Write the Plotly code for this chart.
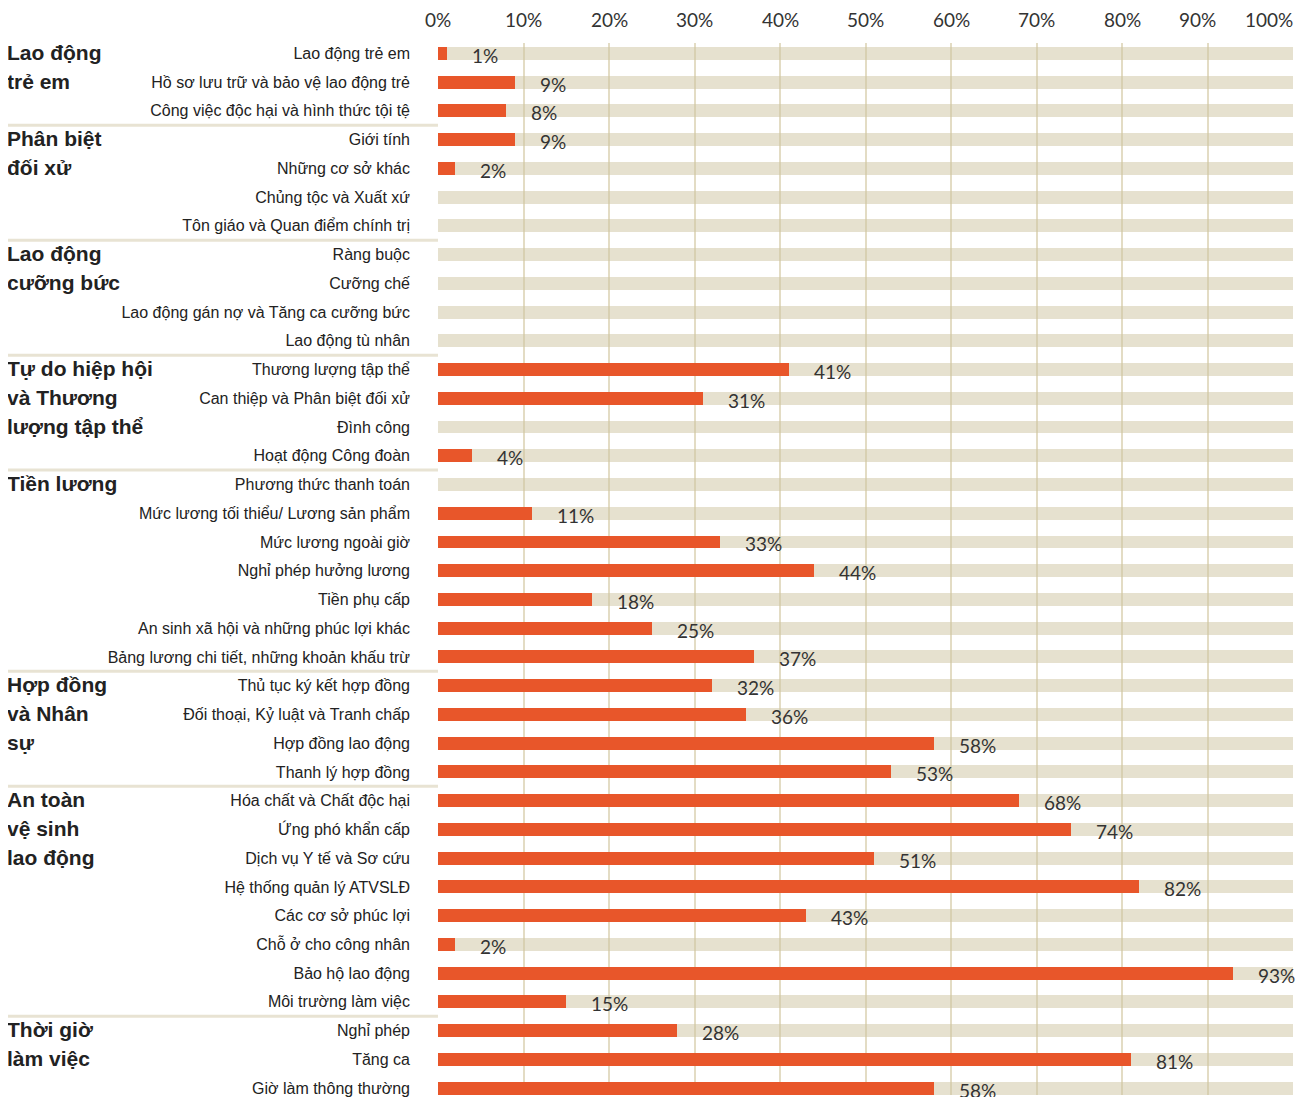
import plotly.graph_objects as go

# ---- data ----
groups = [
    ["Lao động", "trẻ em"],
    ["Phân biệt", "đối xử"],
    ["Lao động", "cưỡng bức"],
    ["Tự do hiệp hội", "và Thương", "lượng tập thể"],
    ["Tiền lương"],
    ["Hợp đồng", "và Nhân", "sự"],
    ["An toàn", "vệ sinh", "lao động"],
    ["Thời giờ", "làm việc"],
]
group_sizes = [3, 4, 4, 4, 7, 4, 8, 3]
categories = [
    "Lao động trẻ em", "Hồ sơ lưu trữ và bảo vệ lao động trẻ", "Công việc độc hại và hình thức tội tệ",
    "Giới tính", "Những cơ sở khác", "Chủng tộc và Xuất xứ", "Tôn giáo và Quan điểm chính trị",
    "Ràng buộc", "Cưỡng chế", "Lao động gán nợ và Tăng ca cưỡng bức", "Lao động tù nhân",
    "Thương lượng tập thể", "Can thiệp và Phân biệt đối xử", "Đình công", "Hoạt động Công đoàn",
    "Phương thức thanh toán", "Mức lương tối thiểu/ Lương sản phẩm", "Mức lương ngoài giờ",
    "Nghỉ phép hưởng lương", "Tiền phụ cấp", "An sinh xã hội và những phúc lợi khác",
    "Bảng lương chi tiết, những khoản khấu trừ",
    "Thủ tục ký kết hợp đồng", "Đối thoại, Kỷ luật và Tranh chấp", "Hợp đồng lao động", "Thanh lý hợp đồng",
    "Hóa chất và Chất độc hại", "Ứng phó khẩn cấp", "Dịch vụ Y tế và Sơ cứu", "Hệ thống quản lý ATVSLĐ",
    "Các cơ sở phúc lợi", "Chỗ ở cho công nhân", "Bảo hộ lao động", "Môi trường làm việc",
    "Nghỉ phép", "Tăng ca", "Giờ làm thông thường",
]
values = [
    1, 9, 8,
    9, 2, 0, 0,
    0, 0, 0, 0,
    41, 31, 0, 4,
    0, 11, 33, 44, 18, 25, 37,
    32, 36, 58, 53,
    68, 74, 51, 82, 43, 2, 93, 15,
    28, 81, 58,
]
full_scale = [100] * len(categories)
tick_vals = [0, 10, 20, 30, 40, 50, 60, 70, 80, 90, 100]
tick_text = ["0%", "10%", "20%", "30%", "40%", "50%", "60%", "70%", "80%", "90%", "100%"]

# ---- style ----
ORANGE = "#e8562a"
STRIPE = "rgba(205,195,159,0.5)"
GRID = "#e3dcc4"
SEP = "#e8e3d3"
BAR_W = 0.45
NUM_FONT = dict(family="Lato", size=19, color="#333333")
# tick label nudges (the last labels are pulled in so they stay inside)
tick_anchor = ["center"] * 10 + ["right"]
tick_shift = [0, 0, 0, 0, 0, 0, 0, 0, 0, -10, 2]

fig = go.Figure()
fig.add_trace(go.Bar(
    y=categories, x=full_scale, orientation="h", width=BAR_W,
    marker=dict(color=STRIPE, line=dict(width=0)), hoverinfo="skip", showlegend=False,
))
fig.add_trace(go.Bar(
    y=categories, x=values, orientation="h", width=BAR_W,
    marker=dict(color=ORANGE, line=dict(width=0)), showlegend=False,
))

# value labels
for cat, v in zip(categories, values):
    if v > 0:
        fig.add_annotation(
            x=v, y=cat, xref="x", yref="y", text=f"{v}%", showarrow=False,
            xanchor="left", yanchor="middle", xshift=23, yshift=-2,
            font=NUM_FONT,
        )

# top tick labels
for tv, tt, anc, sh in zip(tick_vals, tick_text, tick_anchor, tick_shift):
    fig.add_annotation(
        x=tv, y=1, xref="x", yref="paper", text=tt, showarrow=False,
        xanchor=anc, yanchor="bottom", xshift=sh, yshift=10, font=NUM_FONT,
    )

# group labels and separators
LEFT = (5 - 438) / 855
SEP_LEFT = (6 - 438) / 855
start = 0
for lines, size in zip(groups, group_sizes):
    for k, line in enumerate(lines):
        fig.add_annotation(
            x=LEFT, y=categories[start + k], xref="paper", yref="y", text=f"<b>{line}</b>",
            showarrow=False, xanchor="left", yanchor="middle", yshift=1,
            font=dict(family="Liberation Sans", size=21, color="#222222"),
        )
    fig.add_shape(
        type="line", xref="paper", yref="y", x0=SEP_LEFT, x1=0,
        y0=start - 0.5, y1=start - 0.5, line=dict(color=SEP, width=3), layer="above",
    )
    start += size

fig.update_layout(
    width=1298, height=1089,
    margin=dict(l=430, r=13, t=35, b=0),
    paper_bgcolor="white", plot_bgcolor="white",
    barmode="overlay", bargap=0,
    font=dict(family="Liberation Sans", color="#222222"),
)
fig.update_xaxes(
    range=[0, 100], side="top", tickvals=tick_vals, showticklabels=False,
    showgrid=True, gridcolor=GRID, gridwidth=2, zeroline=False, showline=False,
    ticks="", fixedrange=True,
)
fig.update_yaxes(
    type="category", range=[36.24, -0.36], showgrid=False, zeroline=False, showline=False,
    ticks="", ticklabelstandoff=27,
    tickfont=dict(family="Liberation Sans", size=16, color="#222222"), fixedrange=True,
)

fig.write_html("out.html")
